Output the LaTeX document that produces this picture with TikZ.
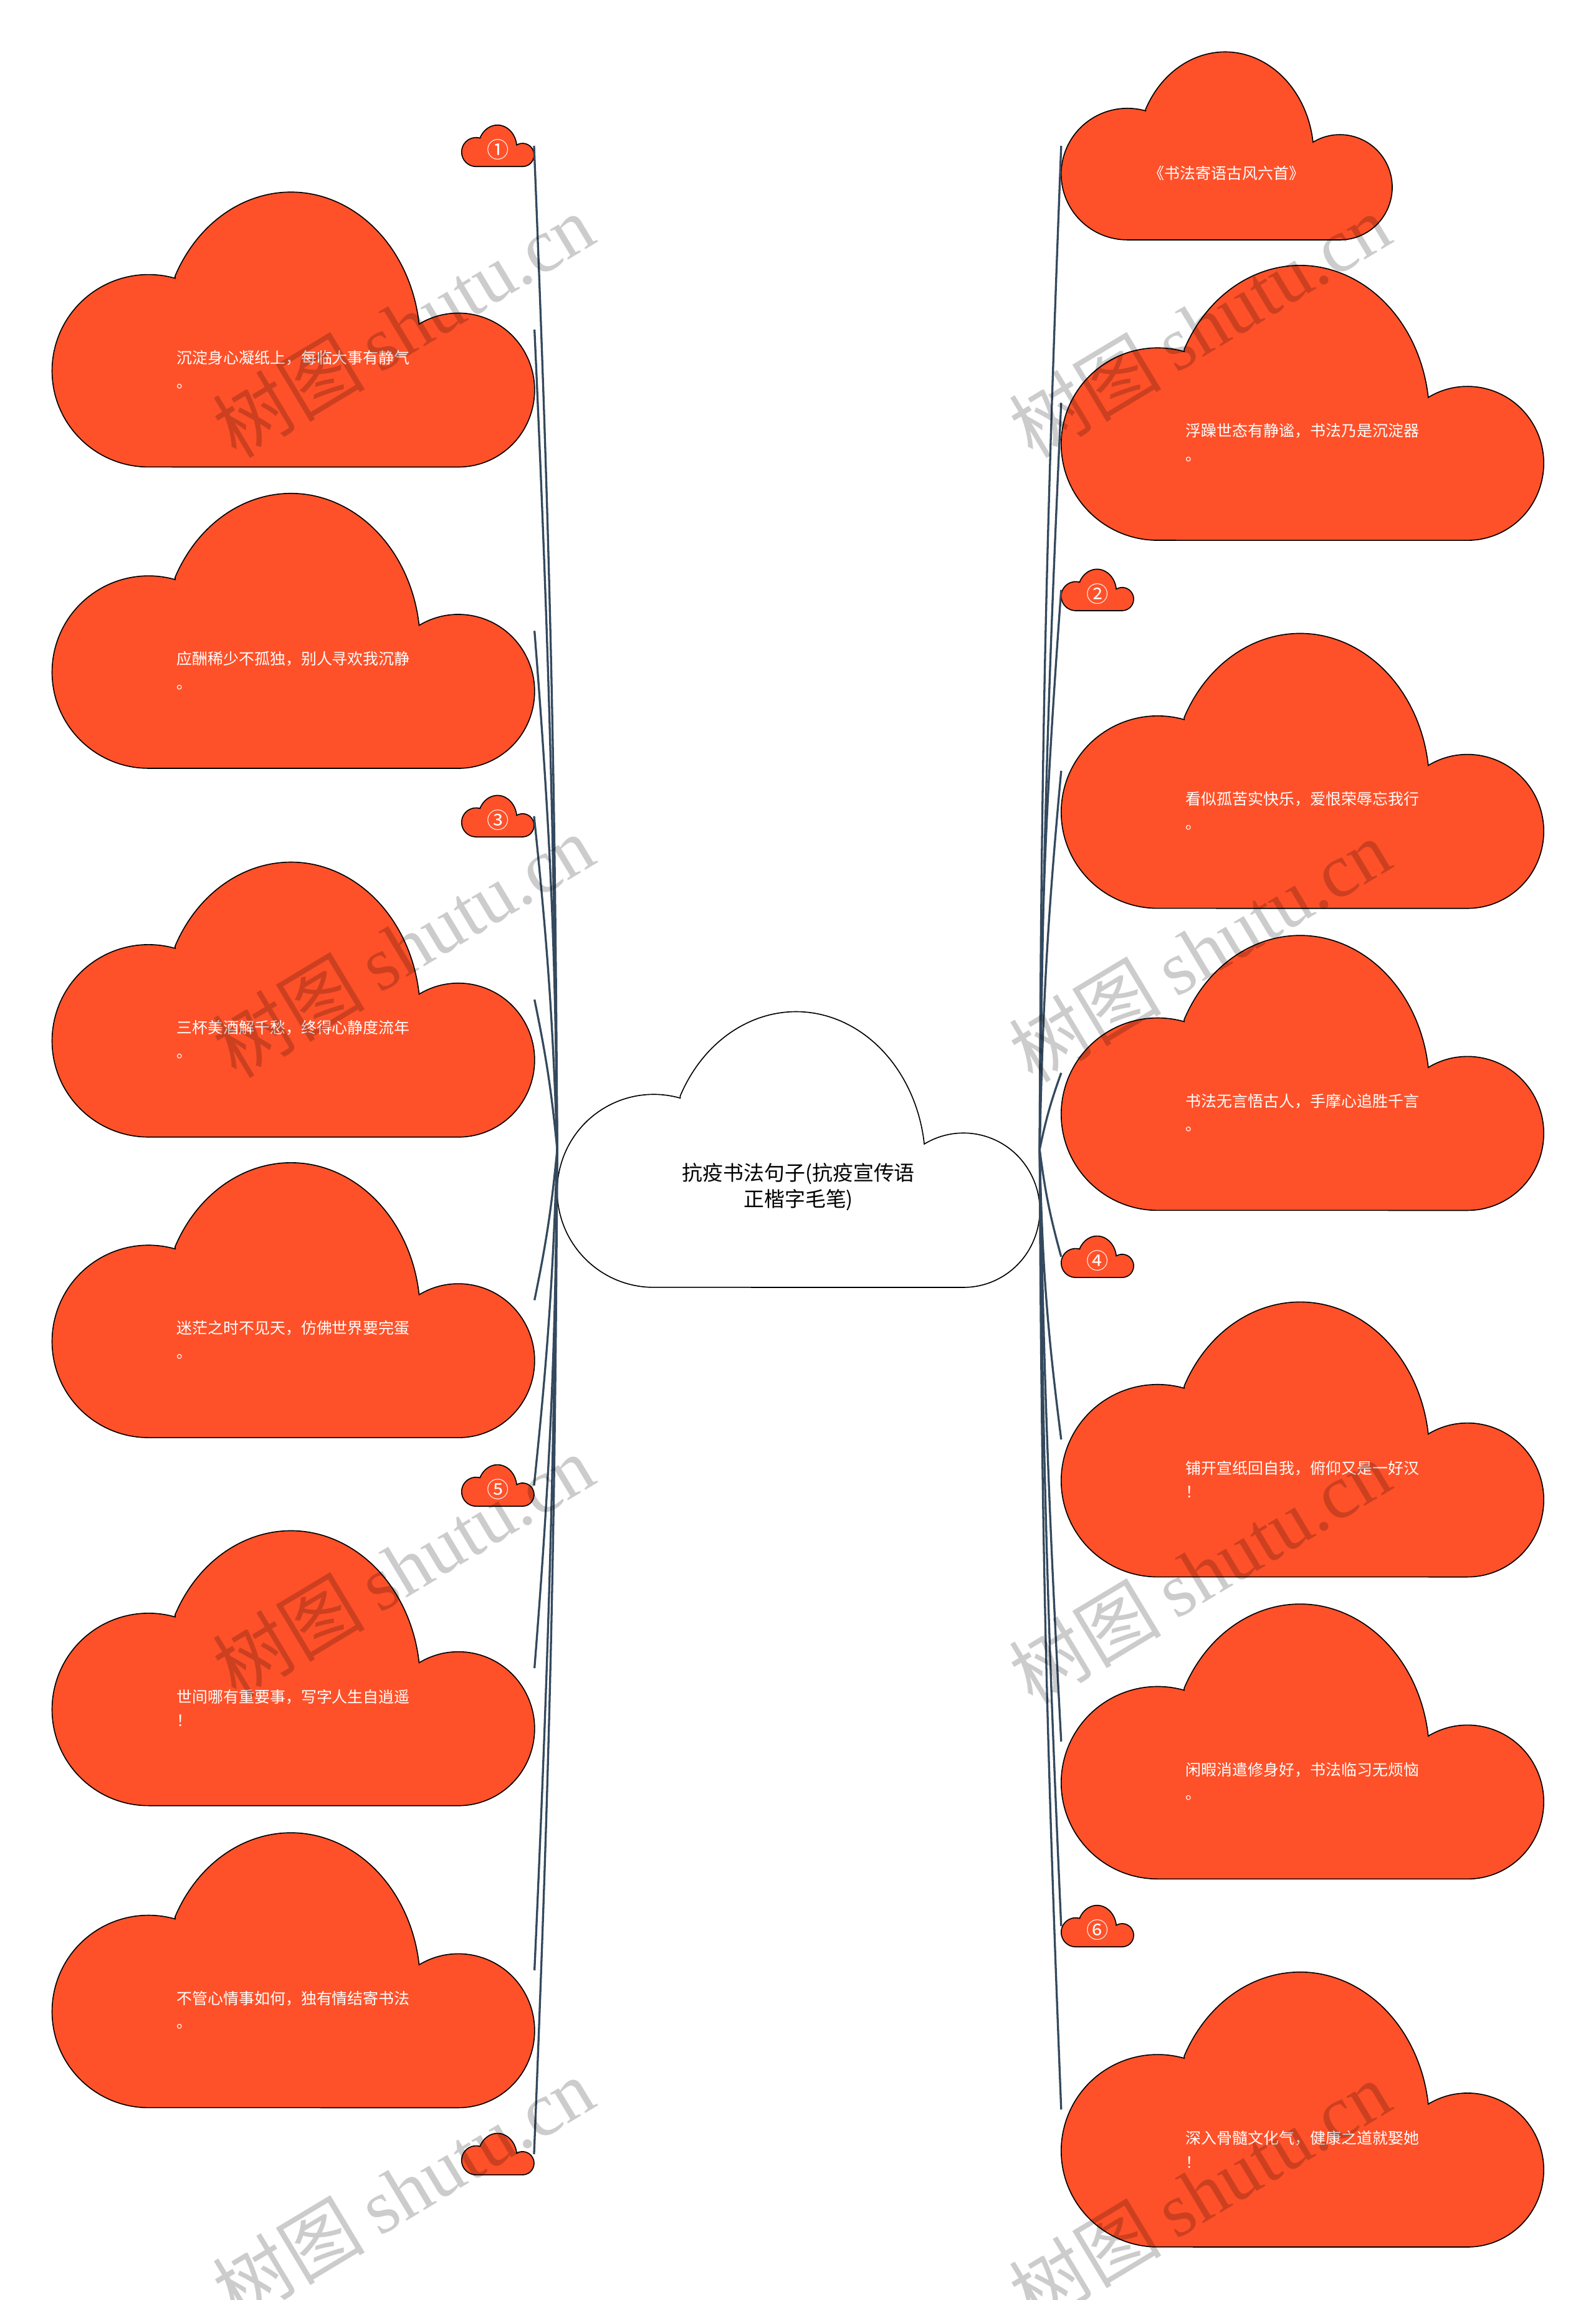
\documentclass[tikz,border=0pt]{standalone}
\usepackage{fontspec}
\newfontfamily\cjk{Noto Sans CJK SC}
\newfontfamily\wmserif{Liberation Serif}
\usetikzlibrary{calc}
\definecolor{cloudred}{HTML}{FF5129}
\definecolor{linkcol}{HTML}{34495E}
\tikzset{
  cloudfill/.style={fill=cloudred, draw=black, line width=0.7pt},
  cloudwhite/.style={fill=white, draw=black, line width=0.7pt},
  anchorbox/.style={rectangle, inner sep=0pt, outer sep=0pt, draw=none},
  bigtext/.style={text=white, align=left, inner sep=0pt, font=\cjk\fontsize{10.6}{16.5}\selectfont},
  numtext/.style={text=white, inner sep=0pt, font=\cjk\fontsize{15}{15}\selectfont},
  maintext/.style={text=black, align=center, inner sep=0pt, font=\cjk\fontsize{14}{18}\selectfont},
  link/.style={draw=linkcol, line width=1.4pt},
  wm/.style={text=black, opacity=0.2, rotate=31, inner sep=0pt, font=\fontsize{52}{52}\selectfont},
}
% #1 name, #2 left x, #3 top y (downwards), #4 width, #5 height, #6 style
\newcommand{\mkcloud}[6]{%
  \begin{scope}[shift={(#2,-#3)}, xscale=#4, yscale=-#5]
    \path[#6] (0.255,0.3055)
      arc[start angle=-153.6, end angle=-7.3, x radius=0.268, y radius=0.55]
      arc[start angle=-121, end angle=90, x radius=0.158, y radius=0.28]
      -- (0.2,1)
      arc[start angle=90, end angle=286, x radius=0.2, y radius=0.35]
      -- cycle;
  \end{scope}
  \node[anchorbox, minimum width=#4pt, minimum height=#5pt] (#1) at ({#2+#4/2},{-#3-#5/2}) {};
}
\begin{document}
\begin{tikzpicture}[x=1pt,y=1pt]
\useasboundingbox (0,0) rectangle (1088,-1568.68);
\fill[white] (0,0) rectangle (1088,-1568.68);

% central
\mkcloud{C}{380}{690}{329}{188}{cloudwhite}
% left side
\mkcloud{s1}{314.8}{85.3}{49.4}{28.3}{cloudfill}
\mkcloud{L1}{35.5}{131}{329}{187.5}{cloudfill}
\mkcloud{L2}{35.5}{336.5}{329}{187.5}{cloudfill}
\mkcloud{s3}{314.8}{542.5}{49.4}{28.3}{cloudfill}
\mkcloud{L3}{35.5}{588}{329}{187.5}{cloudfill}
\mkcloud{L4}{35.5}{793}{329}{187.5}{cloudfill}
\mkcloud{s5}{314.8}{999}{49.4}{28.3}{cloudfill}
\mkcloud{L5}{35.5}{1044}{329}{187.5}{cloudfill}
\mkcloud{L6}{35.5}{1250}{329}{187.5}{cloudfill}
\mkcloud{s7}{314.8}{1455}{49.4}{28.3}{cloudfill}
% right side
\mkcloud{R1}{723.7}{35.4}{225.7}{128.2}{cloudfill}
\mkcloud{R2}{723.7}{181}{329}{187.5}{cloudfill}
\mkcloud{s2}{723.7}{388.2}{49.4}{28.3}{cloudfill}
\mkcloud{R3}{723.7}{432}{329}{187.5}{cloudfill}
\mkcloud{R4}{723.7}{638}{329}{187.5}{cloudfill}
\mkcloud{s4}{723.7}{843}{49.4}{28.3}{cloudfill}
\mkcloud{R5}{723.7}{888}{329}{187.5}{cloudfill}
\mkcloud{R6}{723.7}{1094}{329}{187.5}{cloudfill}
\mkcloud{s6}{723.7}{1299.5}{49.4}{28.3}{cloudfill}
\mkcloud{R7}{723.7}{1345}{329}{187.5}{cloudfill}

% connectors, left
\draw[link] (C.west) to[bend right=1] (s1.east);
\draw[link] (C.west) to[bend right=1] (L1.east);
\draw[link] (C.west) to[bend right=2] (L2.east);
\draw[link] (C.west) to[bend right=2] (s3.east);
\draw[link] (C.west) to[bend right=3] (L3.east);
\draw[link] (C.west) to[bend left=3] (L4.east);
\draw[link] (C.west) to[bend left=2] (s5.east);
\draw[link] (C.west) to[bend left=2] (L5.east);
\draw[link] (C.west) to[bend left=1] (L6.east);
\draw[link] (C.west) to[bend left=1] (s7.east);
% connectors, right
\draw[link] (C.east) to[bend left=1] (R1.west);
\draw[link] (C.east) to[bend left=1] (R2.west);
\draw[link] (C.east) to[bend left=2] (s2.west);
\draw[link] (C.east) to[bend left=2] (R3.west);
\draw[link] (C.east) to[bend left=4] (R4.west);
\draw[link] (C.east) to[bend right=4] (s4.west);
\draw[link] (C.east) to[bend right=3] (R5.west);
\draw[link] (C.east) to[bend right=1] (R6.west);
\draw[link] (C.east) to[bend right=1] (s6.west);
\draw[link] (C.east) to[bend right=1] (R7.west);

% texts
\node[maintext] (Ct) at ($(C.north)!0.635!(C.south)$) {抗疫书法句子(抗疫宣传语\\正楷字毛笔)};
\node[numtext] (s1t) at ($(s1.north)!0.59!(s1.south)$) {①};
\node[bigtext] (L1t) at ($(L1.north)!0.645!(L1.south)$) {沉淀身心凝纸上，每临大事有静气\\。};
\node[bigtext] (L2t) at ($(L2.north)!0.645!(L2.south)$) {应酬稀少不孤独，别人寻欢我沉静\\。};
\node[numtext] (s3t) at ($(s3.north)!0.59!(s3.south)$) {③};
\node[bigtext] (L3t) at ($(L3.north)!0.645!(L3.south)$) {三杯美酒解千愁，终得心静度流年\\。};
\node[bigtext] (L4t) at ($(L4.north)!0.645!(L4.south)$) {迷茫之时不见天，仿佛世界要完蛋\\。};
\node[numtext] (s5t) at ($(s5.north)!0.59!(s5.south)$) {⑤};
\node[bigtext] (L5t) at ($(L5.north)!0.645!(L5.south)$) {世间哪有重要事，写字人生自逍遥\\！};
\node[bigtext] (L6t) at ($(L6.north)!0.645!(L6.south)$) {不管心情事如何，独有情结寄书法\\。};

\node[bigtext] (R1t) at ($(R1.north)!0.645!(R1.south)$) {《书法寄语古风六首》};
\node[bigtext] (R2t) at ($(R2.north)!0.645!(R2.south)$) {浮躁世态有静谧，书法乃是沉淀器\\。};
\node[numtext] (s2t) at ($(s2.north)!0.59!(s2.south)$) {②};
\node[bigtext] (R3t) at ($(R3.north)!0.645!(R3.south)$) {看似孤苦实快乐，爱恨荣辱忘我行\\。};
\node[bigtext] (R4t) at ($(R4.north)!0.645!(R4.south)$) {书法无言悟古人，手摩心追胜千言\\。};
\node[numtext] (s4t) at ($(s4.north)!0.59!(s4.south)$) {④};
\node[bigtext] (R5t) at ($(R5.north)!0.645!(R5.south)$) {铺开宣纸回自我，俯仰又是一好汉\\！};
\node[bigtext] (R6t) at ($(R6.north)!0.645!(R6.south)$) {闲暇消遣修身好，书法临习无烦恼\\。};
\node[numtext] (s6t) at ($(s6.north)!0.59!(s6.south)$) {⑥};
\node[bigtext] (R7t) at ($(R7.north)!0.645!(R7.south)$) {深入骨髓文化气，健康之道就娶她\\！};

% watermarks
\node[wm] (w1) at (275,-222) {{\cjk 树图}\hspace{10pt}{\wmserif shutu.cn}};
\node[wm] (w2) at (275,-645) {{\cjk 树图}\hspace{10pt}{\wmserif shutu.cn}};
\node[wm] (w3) at (275,-1068) {{\cjk 树图}\hspace{10pt}{\wmserif shutu.cn}};
\node[wm] (w4) at (275,-1493) {{\cjk 树图}\hspace{10pt}{\wmserif shutu.cn}};
\node[wm] (w5) at (818,-222) {{\cjk 树图}\hspace{10pt}{\wmserif shutu.cn}};
\node[wm] (w6) at (818,-648) {{\cjk 树图}\hspace{10pt}{\wmserif shutu.cn}};
\node[wm] (w7) at (818,-1072) {{\cjk 树图}\hspace{10pt}{\wmserif shutu.cn}};
\node[wm] (w8) at (818,-1495) {{\cjk 树图}\hspace{10pt}{\wmserif shutu.cn}};
\end{tikzpicture}
\end{document}
